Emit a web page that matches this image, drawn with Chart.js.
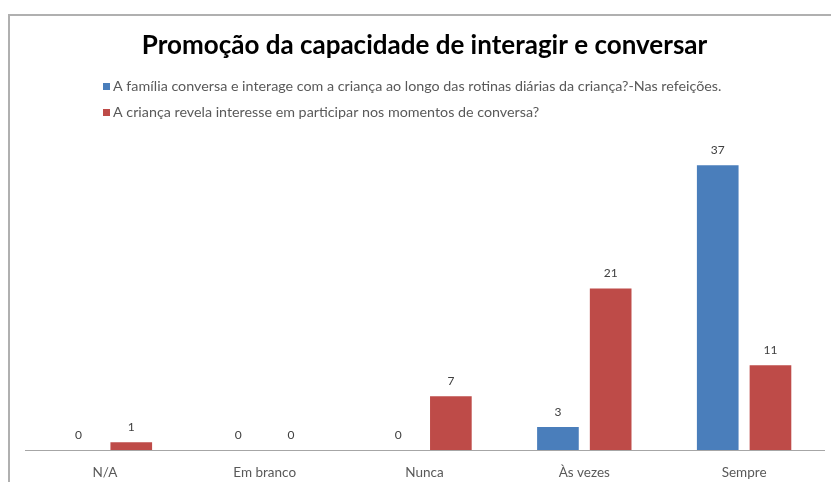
<!DOCTYPE html>
<html>
<head>
<meta charset="utf-8">
<script src="https://cdn.jsdelivr.net/npm/chart.js@4/dist/chart.umd.min.js"></script>
<style>
  body { margin: 0; background: #fff; }
  #wrap { position: relative; width: 831px; height: 482px; }
  #frame { position: absolute; left: 8px; top: 14px; width: 840px; height: 500px; border: 2px solid #b0b0b0; box-sizing: border-box; pointer-events: none; }
</style>
</head>
<body>
<div id="wrap">
  <canvas id="myChart" width="831" height="482"></canvas>
  <div id="frame"></div>
</div>
<script>
  const categories = ['N/A', 'Em branco', 'Nunca', 'Às vezes', 'Sempre'];
  const familiaValues = [0, 0, 0, 3, 37];
  const criancaValues = [1, 0, 7, 21, 11];
  const seriesNames = [
    'A família conversa e interage com a criança ao longo das rotinas diárias da criança?-Nas refeições.',
    'A criança revela interesse em participar nos momentos de conversa?'
  ];

  const FONT = 'Lato, "Open Sans", sans-serif';

  // value labels above each bar
  const valueLabels = {
    id: 'valueLabels',
    afterDatasetsDraw(chart) {
      const c = chart.ctx;
      c.save();
      c.font = '12px ' + FONT;
      c.fillStyle = '#404040';
      c.textAlign = 'center';
      c.textBaseline = 'middle';
      chart.data.datasets.forEach((ds, i) => {
        chart.getDatasetMeta(i).data.forEach((bar, j) => {
          c.fillText(String(ds.data[j]), bar.x, bar.y - 15);
        });
      });
      c.restore();
    }
  };

  // legend stacked on two rows, left aligned
  const stackedLegend = {
    id: 'stackedLegend',
    afterDraw(chart) {
      const c = chart.ctx;
      c.save();
      c.font = '14.3px ' + FONT;
      c.textBaseline = 'middle';
      chart.data.datasets.forEach((ds, i) => {
        const y = 86 + i * 26;
        c.fillStyle = ds.backgroundColor;
        c.fillRect(103, y - 3, 7, 7);
        c.fillStyle = '#595959';
        c.fillText(ds.label, 113, y);
      });
      c.restore();
    }
  };

  const ctx = document.getElementById('myChart');

  new Chart(ctx, {
    type: 'bar',
    data: {
      labels: categories,
      datasets: [{
        label: seriesNames[0],
        data: familiaValues,
        backgroundColor: '#4a7ebb',
        categoryPercentage: 0.66,
        barPercentage: 0.79,
      },
      {
        label: seriesNames[1],
        data: criancaValues,
        backgroundColor: '#be4b48',
        categoryPercentage: 0.66,
        barPercentage: 0.79,
      }]
    },
    options: {
      responsive: false,
      animation: false,
      layout: { padding: { left: 25, right: 7, top: 0, bottom: 0 } },
      plugins: {
        legend: { display: false },
        tooltip: { enabled: false },
        title: {
          display: true,
          text: 'Promoção da capacidade de interagir e conversar',
          color: '#000',
          font: { family: FONT, size: 26, weight: 'bold' },
          padding: { top: 30, bottom: 81 }
        }
      },
      scales: {
        x: {
          grid: { display: false },
          border: { display: true, color: '#a6a6a6', width: 1 },
          ticks: { color: '#595959', font: { family: FONT, size: 13.5 }, padding: 7 },
          afterFit(scale) { scale.height = 32; }
        },
        y: {
          display: false,
          min: 0,
          max: 40
        }
      }
    },
    plugins: [valueLabels, stackedLegend]
  });
</script>
</body>
</html>
